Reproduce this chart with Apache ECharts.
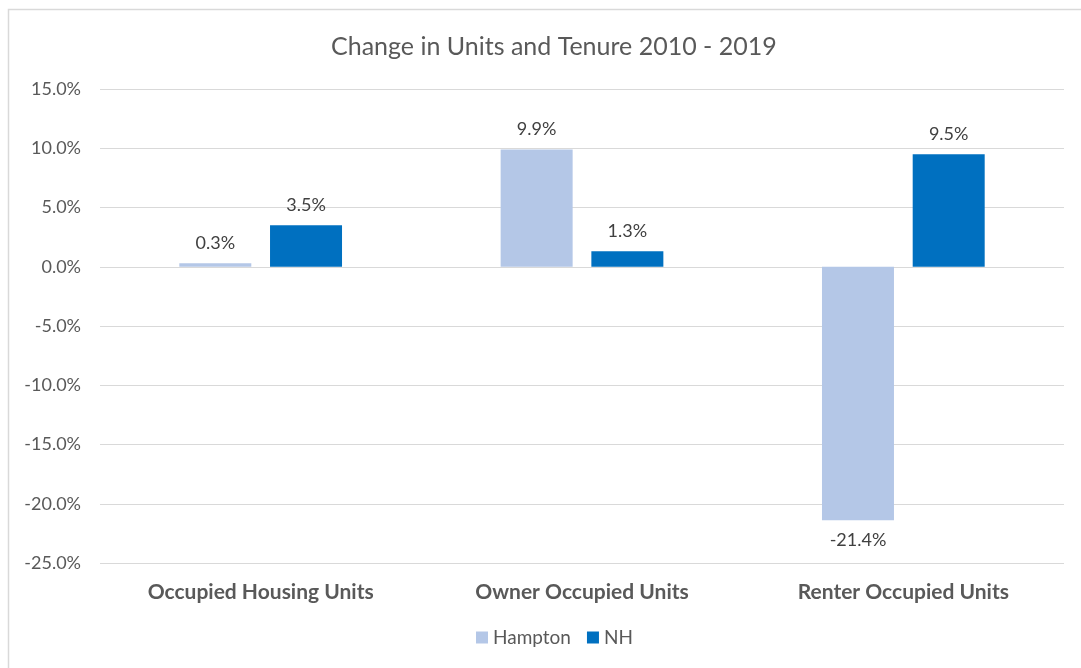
<!DOCTYPE html>
<html>
<head>
<meta charset="utf-8">
<script src="https://cdn.jsdelivr.net/npm/echarts@6/dist/echarts.min.js"></script>
<style>
    html, body { margin: 0; padding: 0; background: #fff; }
    #chart { width: 1081px; height: 668px; }
</style>
</head>
<body>
<div id="chart"></div>
<script>
    // 数据
    const categories = ['Occupied Housing Units', 'Owner Occupied Units', 'Renter Occupied Units'];
    const hampton = [0.3, 9.9, -21.4];
    const nh = [3.5, 1.3, 9.5];

    const textColor = '#595959';
    const fontFamily = 'Lato, "Open Sans", sans-serif';

    let myChart = echarts.init(document.getElementById('chart'));
    let option = {
        backgroundColor: '#fff',
        textStyle: { fontFamily: fontFamily },
        graphic: [
            {
                type: 'rect',
                shape: { x: 8.5, y: 9.5, width: 1090, height: 670 },
                style: { fill: 'none', stroke: '#d9d9d9', lineWidth: 1.5 },
                silent: true
            }
        ],
        title: {
            text: 'Change in Units and Tenure 2010 - 2019',
            left: 326,
            top: 29,
            textStyle: { fontSize: 25, fontWeight: 'normal', color: textColor, fontFamily: fontFamily }
        },
        legend: {
            bottom: 16,
            left: 471,
            itemWidth: 12,
            itemHeight: 12,
            itemGap: 16,
            icon: 'rect',
            textStyle: { fontSize: 19, color: textColor, fontFamily: fontFamily },
            data: ['Hampton', 'NH']
        },
        grid: {
            left: 100,
            right: 17,
            top: 89,
            bottom: 105,
            containLabel: false
        },
        color: ['#b4c7e7', '#0070c0'],
        xAxis: {
            type: 'category',
            data: categories,
            position: 'bottom',
            axisLine: { show: false },
            axisTick: { show: false },
            axisLabel: {
                margin: 19,
                fontSize: 21,
                fontWeight: 'bold',
                color: textColor,
                fontFamily: fontFamily
            }
        },
        yAxis: {
            type: 'value',
            min: -25,
            max: 15,
            interval: 5,
            axisLine: { show: false },
            axisTick: { show: false },
            axisLabel: {
                formatter: (v) => v.toFixed(1) + '%',
                fontSize: 18,
                color: textColor,
                margin: 19,
                fontFamily: fontFamily
            },
            splitLine: { lineStyle: { color: '#d9d9d9', width: 1 } }
        },
        series: [
            {
                name: 'Hampton',
                type: 'bar',
                data: hampton,
                barWidth: 72,
                barGap: '26%',
                label: {
                    show: true,
                    position: 'top',
                    distance: 11,
                    formatter: (p) => p.value.toFixed(1) + '%',
                    fontSize: 18,
                    color: '#404040',
                    fontFamily: fontFamily
                }
            },
            {
                name: 'NH',
                type: 'bar',
                data: nh,
                barWidth: 72,
                label: {
                    show: true,
                    position: 'top',
                    distance: 11,
                    formatter: (p) => p.value.toFixed(1) + '%',
                    fontSize: 18,
                    color: '#404040',
                    fontFamily: fontFamily
                }
            }
        ]
    };
    // 负值标签放在柱子下方
    option.series[0].data = hampton.map(v => ({
        value: v,
        label: { position: v < 0 ? 'bottom' : 'top' }
    }));
    myChart.setOption(option);
</script>
</body>
</html>
